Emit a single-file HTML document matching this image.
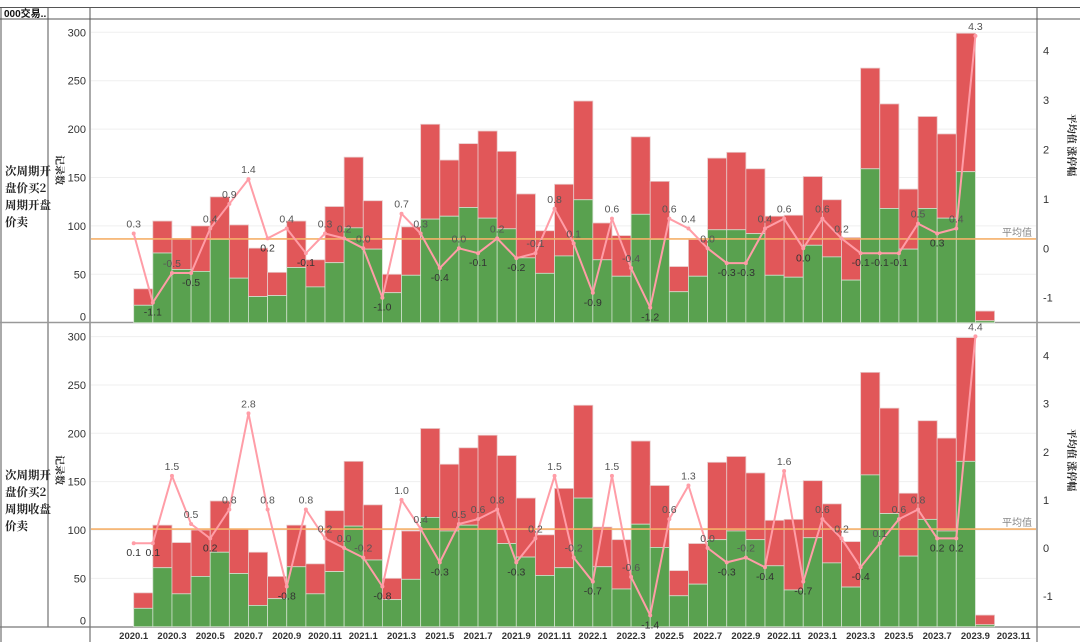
<!DOCTYPE html>
<html><head><meta charset="utf-8">
<style>
html,body{margin:0;padding:0;background:#fff;}
svg{display:block;font-family:"Liberation Sans","Noto Sans CJK SC",sans-serif;}
</style></head>
<body>
<svg id="chart" width="1080" height="642" viewBox="0 0 1080 642" xmlns="http://www.w3.org/2000/svg">
  <rect x="0" y="0" width="1080" height="642" fill="#fff"/>
  <g id="frame" stroke="#555" stroke-width="1" fill="none">
    <line x1="0" y1="7.5" x2="1080" y2="7.5"/>
    <line x1="0" y1="19" x2="1080" y2="19"/>
    <line x1="1" y1="7" x2="1" y2="642"/>
    <line x1="48" y1="7" x2="48" y2="627"/>
    <line x1="90" y1="7" x2="90" y2="642"/>
    <line x1="1037" y1="7" x2="1037" y2="642"/>
    <line x1="0" y1="322.5" x2="1080" y2="322.5" stroke="#999" stroke-width="1.5"/>
    <line x1="0" y1="627" x2="1080" y2="627" stroke="#777" stroke-width="1.2"/>
  </g>
  <text x="4" y="17" font-size="10" font-weight="bold" fill="#111">000交易..</text>
  <text font-family="'Noto Serif CJK SC',serif" font-size="11.5" font-weight="bold" fill="#222">
    <tspan x="5" y="175">次周期开</tspan><tspan x="5" y="192">盘价买2</tspan><tspan x="5" y="209">周期开盘</tspan><tspan x="5" y="226">价卖</tspan>
  </text>
  <text font-family="'Noto Serif CJK SC',serif" font-size="11.5" font-weight="bold" fill="#222">
    <tspan x="5" y="479">次周期开</tspan><tspan x="5" y="496">盘价买2</tspan><tspan x="5" y="513">周期收盘</tspan><tspan x="5" y="530">价卖</tspan>
  </text>
  <text transform="translate(56,170) rotate(90)" text-anchor="middle" font-family="'Noto Serif CJK SC',serif" font-size="10" font-weight="bold" fill="#222">记录数</text>
  <text transform="translate(56,470) rotate(90)" text-anchor="middle" font-family="'Noto Serif CJK SC',serif" font-size="10" font-weight="bold" fill="#222">记录数</text>
  <text transform="translate(1068,145) rotate(90)" text-anchor="middle" font-family="'Noto Serif CJK SC',serif" font-size="10" font-weight="bold" fill="#222">平均值 涨停幅</text>
  <text transform="translate(1068,460) rotate(90)" text-anchor="middle" font-family="'Noto Serif CJK SC',serif" font-size="10" font-weight="bold" fill="#222">平均值 涨停幅</text>
  <g id="layer"></g>
</svg>
<script>
const xLabels = ["2020.1","2020.3","2020.5","2020.7","2020.9","2020.11","2021.1","2021.3","2021.5","2021.7","2021.9","2021.11","2022.1","2022.3","2022.5","2022.7","2022.9","2022.11","2023.1","2023.3","2023.5","2023.7","2023.9","2023.11"];
const totals = [35,105,87,100,130,101,77,52,105,65,120,171,126,50,99,205,168,185,198,177,133,95,143,229,103,90,192,146,58,86,170,176,159,110,111,151,127,88,263,226,138,213,195,299,12];
const greenTop = [18,72,55,53,86,46,27,28,57,37,62,98,76,31,49,107,110,119,108,97,67,51,69,127,65,48,112,86,32,48,96,96,92,49,47,80,68,44,159,118,76,118,108,156,2];
const greenBottom = [19,61,34,52,77,55,22,29,62,34,57,104,69,28,49,113,99,105,101,86,72,53,61,133,62,39,106,82,32,44,90,99,90,63,38,92,66,41,157,117,73,111,99,171,2];
const lineTop = [0.3,-1.1,-0.5,-0.5,0.4,0.9,1.4,0.2,0.4,-0.1,0.3,0.2,0.0,-1.0,0.7,0.3,-0.4,0.0,-0.1,0.2,-0.2,-0.1,0.8,0.1,-0.9,0.6,-0.4,-1.2,0.6,0.4,0.0,-0.3,-0.3,0.4,0.6,0.0,0.6,0.2,-0.1,-0.1,-0.1,0.5,0.3,0.4,4.3];
const lineBottom = [0.1,0.1,1.5,0.5,0.2,0.8,2.8,0.8,-0.8,0.8,0.2,0.0,-0.2,-0.8,1.0,0.4,-0.3,0.5,0.6,0.8,-0.3,0.2,1.5,-0.2,-0.7,1.5,-0.6,-1.4,0.6,1.3,0.0,-0.3,-0.2,-0.4,1.6,-0.7,0.6,0.2,-0.4,0.1,0.6,0.8,0.2,0.2,4.4];
const leftTicks = [0,50,100,150,200,250,300];
const rightTicks = [-1,0,1,2,3,4];
const avgTop = 86.5;
const avgBottom = 101;

const NS = "http://www.w3.org/2000/svg";
const layer = document.getElementById('layer');
const X0 = 133.7, BW = 19.13;
function xAt(i){ return X0 + i*BW; }
function mk(tag, attrs, parent){
  const e = document.createElementNS(NS, tag);
  for (const k in attrs) e.setAttribute(k, attrs[k]);
  (parent||layer).appendChild(e);
  return e;
}
const panels = [
  {name:'top', base:322.7, k:0.968, r0:248.3, rk:49.4, green:greenTop, line:lineTop, avg:avgTop},
  {name:'bottom', base:626.7, k:0.967, r0:548, rk:48.1, green:greenBottom, line:lineBottom, avg:avgBottom}
];
panels.forEach(p => {
  const yL = v => p.base - v*p.k;
  const yR = v => p.r0 - v*p.rk;
  const g = mk('g', {});
  
  
  leftTicks.forEach(t => {
    if (t > 0) {
      const gl = mk('line', {x1:91, x2:1036, y1:yL(t), y2:yL(t), stroke:'#efefef', 'stroke-width':1}, g);
      
      
    }
    const tx = mk('text', {x:86, y:(t===0? yL(t)-2 : yL(t)+4), 'text-anchor':'end', 'font-size':11, fill:'#333'}, g);
    
    
    tx.textContent = t;
  });
  rightTicks.forEach(t => {
    const tx = mk('text', {x:1043, y:yR(t)+4, 'font-size':11, fill:'#333'}, g);
    
    
    tx.textContent = t;
  });
  totals.forEach((tot, i) => {
    const x = xAt(i);
    const gr = p.green[i];
    const r = mk('rect', {x:x, y:yL(tot), width:BW, height:yL(gr)-yL(tot), fill:'#e15759', stroke:'#e8c8c8', 'stroke-width':0.8}, g);
    
    
    const gg = mk('rect', {x:x, y:yL(gr), width:BW, height:p.base-yL(gr), fill:'#59a14f', stroke:'#cfe0cc', 'stroke-width':0.8}, g);
    
    
  });
  const av = mk('line', {x1:91, x2:1036, y1:yL(p.avg), y2:yL(p.avg), stroke:'#f5b06a', 'stroke-width':1.6}, g);
  
  
  const avt = mk('text', {x:1032, y:yL(p.avg)-3, 'text-anchor':'end', 'font-size':10, fill:'#888'}, g);
  
  
  avt.textContent = '平均值';
  const pts = p.line.map((v,i) => xAt(i).toFixed(1) + ',' + yR(v).toFixed(1)).join(' ');
  const pl = mk('polyline', {points:pts, fill:'none', stroke:'#ff9da7', 'stroke-width':2, 'stroke-linejoin':'round'}, g);
  
  
  p.line.forEach((v,i) => {
    const c = mk('circle', {cx:xAt(i), cy:yR(v), r:2, fill:'#ff9da7'}, g);
    
    
    const prev = i>0 ? p.line[i-1] : Infinity;
    const next = i<p.line.length-1 ? p.line[i+1] : Infinity;
    const below = v <= prev && v <= next;
    const lt = mk('text', {x:xAt(i), y: below ? yR(v)+13 : yR(v)-6, 'text-anchor':'middle', 'font-size':10.5, fill: below ? '#333' : '#555'}, g);
    
    
    lt.textContent = v.toFixed(1);
  });
});
xLabels.forEach((s, j) => {
  const t = mk('text', {x:xAt(j*2), y:639, 'text-anchor':'middle', 'font-size':9.5, 'font-weight':'bold', fill:'#333'});
  
  
  t.textContent = s;
});
</script>
</body></html>
